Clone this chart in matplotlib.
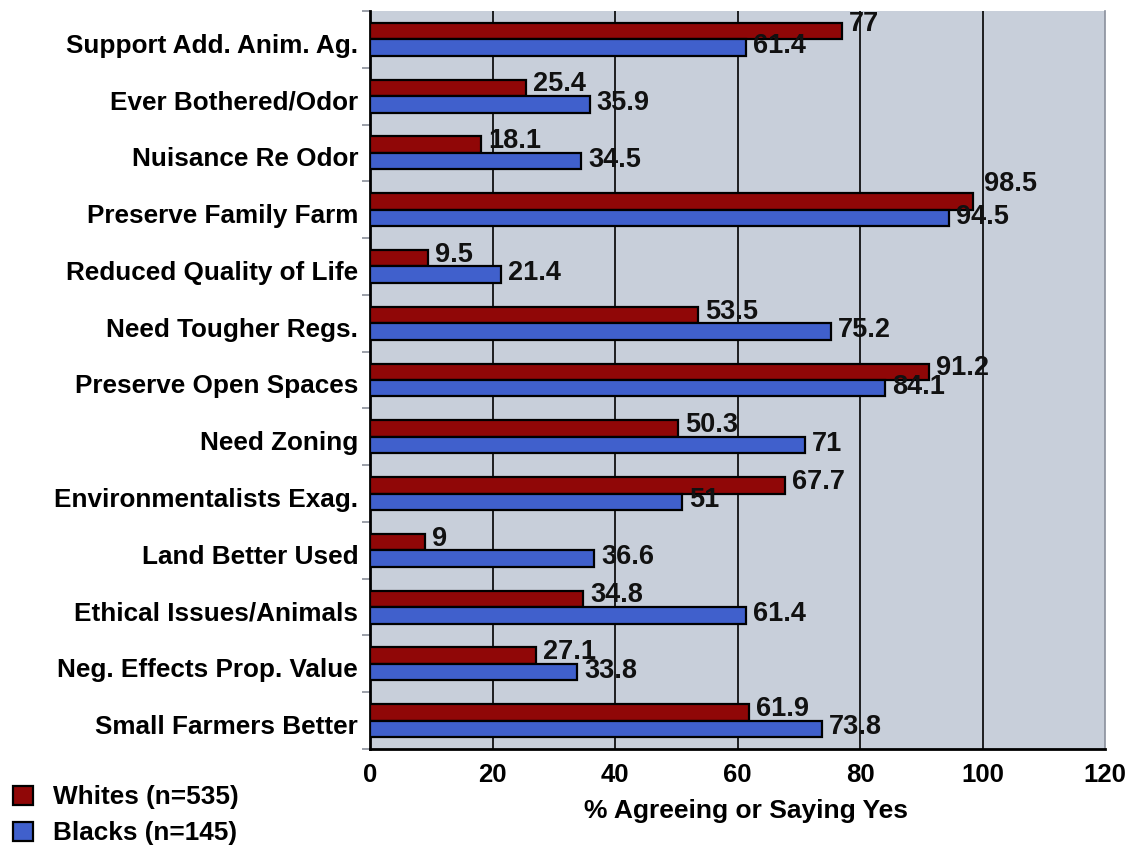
import numpy as np
import matplotlib
matplotlib.use("Agg")
import matplotlib.pyplot as plt
from matplotlib.transforms import ScaledTranslation

categories = [
    "Support Add. Anim. Ag.",
    "Ever Bothered/Odor",
    "Nuisance Re Odor",
    "Preserve Family Farm",
    "Reduced Quality of Life",
    "Need Tougher Regs.",
    "Preserve Open Spaces",
    "Need Zoning",
    "Environmentalists Exag.",
    "Land Better Used",
    "Ethical Issues/Animals",
    "Neg. Effects Prop. Value",
    "Small Farmers Better",
]
whites = [77, 25.4, 18.1, 98.5, 9.5, 53.5, 91.2, 50.3, 67.7, 9, 34.8, 27.1, 61.9]
blacks = [61.4, 35.9, 34.5, 94.5, 21.4, 75.2, 84.1, 71, 51, 36.6, 61.4, 33.8, 73.8]
series_names = ["Whites (n=535)", "Blacks (n=145)"]
x_ticks = [0, 20, 40, 60, 80, 100, 120]

RED = "#900707"
BLUE = "#4060cc"
BG = "#c8cfda"

plt.rcParams["font.family"] = ["Liberation Sans", "DejaVu Sans"]
plt.rcParams["font.weight"] = "bold"

fig = plt.figure(figsize=(11.33, 8.5), dpi=100)
ax = fig.add_axes([370 / 1133, 1 - 749 / 850, 735 / 1133, 738 / 850])
ax.set_facecolor(BG)

y = np.arange(len(categories))
h = 0.29
bars_w = ax.barh(y - h / 2, whites, height=h, color=RED, edgecolor="black",
                 linewidth=1.6, zorder=3, label=series_names[0])
bars_b = ax.barh(y + h / 2, blacks, height=h, color=BLUE, edgecolor="black",
                 linewidth=1.6, zorder=3, label=series_names[1])

def fmt(v):
    return f"{v:g}"

# extra lift (points) for value labels that would otherwise collide
red_lift = {0: 3, 3: 10}
LABEL_SIZE = 19.5
for i, (yi, v) in enumerate(zip(y, whites)):
    ax.annotate(fmt(v), (v, yi - h / 2), xytext=(5 + (3 if i == 3 else 0), 2.5 + red_lift.get(i, 0)),
                textcoords="offset points", ha="left", va="center",
                fontsize=LABEL_SIZE, fontweight="bold", color="#111111", zorder=5)
for yi, v in zip(y, blacks):
    ax.annotate(fmt(v), (v, yi + h / 2), xytext=(5, 1), textcoords="offset points",
                ha="left", va="center", fontsize=LABEL_SIZE, fontweight="bold",
                color="#111111", zorder=5)

ax.set_xlim(0, 120)
ax.set_ylim(len(categories) - 0.5, -0.5)

ax.set_xticks(x_ticks)
ax.set_xticklabels([str(t) for t in x_ticks], fontsize=18.5, fontweight="bold")
ax.tick_params(axis="x", length=0, pad=10)

ax.set_yticks(y)
ax.set_yticklabels(categories, fontsize=18.8, fontweight="bold")
ax.tick_params(axis="y", which="major", length=0, pad=8.5)
ax.set_yticks(np.arange(-0.5, len(categories), 1), minor=True)
ax.tick_params(axis="y", which="minor", length=6, width=1.2, color="#8a8f99")
shift = ScaledTranslation(0, -4 / 100, fig.dpi_scale_trans)
for lbl in ax.get_yticklabels():
    lbl.set_transform(lbl.get_transform() + shift)

ax.grid(axis="x", color="black", linewidth=1.2, zorder=1)
ax.xaxis.get_gridlines()[-1].set_visible(False)
ax.grid(axis="y", visible=False)
ax.set_axisbelow(True)

ax.spines["top"].set_visible(False)
ax.spines["right"].set_color("#8a909c")
ax.spines["right"].set_linewidth(1.2)
ax.spines["left"].set_linewidth(2)
ax.spines["bottom"].set_linewidth(2)

ax.set_xlabel("% Agreeing or Saying Yes", fontsize=19, fontweight="bold")
ax.xaxis.set_label_coords((746 - 370) / 735, -(799 - 749) / 738)

leg = fig.legend(handles=[bars_w, bars_b], labels=series_names,
                 loc="upper left", bbox_to_anchor=(3 / 1133, 1 - 775 / 850),
                 frameon=False, fontsize=18.8, handlelength=0.75, handleheight=0.75,
                 handletextpad=0.75, labelspacing=0.45, borderaxespad=0)
for t in leg.get_texts():
    t.set_fontweight("bold")

fig.savefig("out.png", dpi=100)
